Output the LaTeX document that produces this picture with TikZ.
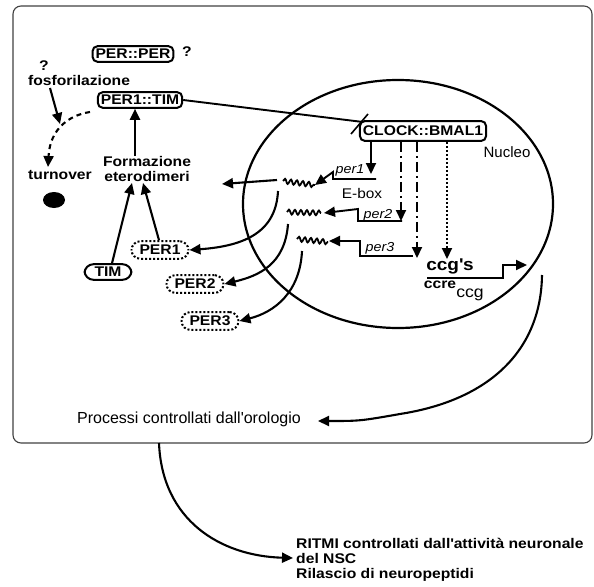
\documentclass[tikz,border=0pt]{standalone}
\usepackage{fontspec}
\setmainfont{Liberation Sans}
\newfontfamily\bfw[FakeStretch=1.12]{Liberation Sans}
\newfontfamily\rgw[FakeStretch=1.1]{Liberation Sans}
\usetikzlibrary{arrows.meta,decorations.pathmorphing,calc,shapes.geometric}
\tikzset{
 arr/.style={line width=2.1pt, -{Triangle[length=11pt,width=10pt]}},
 bx/.style={draw, line width=2pt, rounded corners=5pt, inner xsep=3pt, inner ysep=3pt, font=\bfw\bfseries\fontsize{14}{16}\selectfont},
 dbx/.style={draw, line width=2pt, dash pattern=on 2pt off 2pt, rounded corners=9pt, inner xsep=8pt, inner ysep=4pt, font=\bfw\bfseries\fontsize{14}{16}\selectfont},
 bt/.style={font=\bfw\bfseries\fontsize{14}{15}\selectfont},
 rt/.style={font=\fontsize{14}{16}\selectfont},
 it/.style={font=\rgw\itshape\fontsize{13}{15}\selectfont},
 wav/.style={line width=1.8pt, decorate, decoration={snake, amplitude=2.4pt, segment length=6pt}},
 dashdot/.style={dash pattern=on 10pt off 4pt on 2pt off 4pt},
}
\begin{document}
\begin{tikzpicture}[x=1pt,y=-1pt]
\useasboundingbox (0,0) rectangle (594,586);
\draw[line width=1.1pt, black!75, rounded corners=8pt] (13,6) rectangle (592,443);
\draw[line width=2.2pt] (398,204) ellipse [x radius=155, y radius=124];

% nodes
\node[bx] (perper) at (133,54) {PER::PER};
\node[bt] (q1) at (187,52) {?};
\node[bt] (q2) at (44,66) {?};
\node[bt] (fosfo) at (79,80) {fosforilazione};
\node[bx] (pertim) at (140,100) {PER1::TIM};
\node[bt, align=center, inner sep=0pt] (form) at (147,169) {Formazione\\eterodimeri};
\node[bt] (turn) at (60,175) {turnover};
\node[fill=black, ellipse, minimum width=22pt, minimum height=16pt, inner sep=0pt] (dot) at (54,200) {};
\node[bx, rounded corners=9pt, inner xsep=10pt] (tim) at (108,272) {TIM};
\node[dbx] (p1) at (160,250) {PER1};
\node[dbx] (p2) at (195,284) {PER2};
\node[dbx] (p3) at (210,321) {PER3};
\node[bx, inner ysep=5pt] (clock) at (423,131) {CLOCK::BMAL1};
\node[rt, font=\fontsize{15}{17}\selectfont] (nuc) at (507,152) {Nucleo};
\node[rt, font=\rgw\fontsize{14}{16}\selectfont] (ebox) at (362,193) {E-box};
\node[it] (l1) at (350,170) {per1};
\node[it] (l2) at (378,215) {per2};
\node[it] (l3) at (380,248) {per3};
\node[font=\bfw\bfseries\fontsize{17}{18}\selectfont] (ccgs) at (450,266) {ccg\textquotesingle s};
\node[bt] (ccre) at (440,285) {ccre};
\node[font=\rgw\fontsize{16}{18}\selectfont] (ccg) at (470,295) {ccg};
\node[font=\fontsize{16}{18}\selectfont] (proc) at (189,419) {Processi controllati dall\textquotesingle orologio};
\node[align=left, anchor=north west, inner sep=0pt, font=\bfw\bfseries\fontsize{14}{15}\selectfont] (ritmi) at (296,538)
 {RITMI controllati dall\textquotesingle attivit\`a neuronale\\del NSC\\Rilascio di neuropeptidi};

% coordinates
\coordinate (phos) at (60,124);
\coordinate (fs) at (50,88);
\coordinate (dsA) at (90,112);
\coordinate (dsB) at (48,167);
\coordinate (cl) at (363,122);
\coordinate (s1) at (351,134);
\coordinate (s2) at (368,114);
\coordinate (w1a) at (283,181);
\coordinate (w1b) at (315,185);
\coordinate (w2a) at (287,212);
\coordinate (w2b) at (321,213);
\coordinate (w3a) at (297,239);
\coordinate (w3b) at (328,242);
\coordinate (lft) at (222,184);
\coordinate (ccgend) at (527,265);
\coordinate (rc) at (542,275);
\coordinate (procin) at (318,421);
\coordinate (bs) at (159,443);
\coordinate (bend) at (293,558);

% left part
\draw[arr] (fs) -- (phos);
\draw[line width=2.1pt, dash pattern=on 5pt off 4pt, -{Triangle[length=11pt,width=10pt]}] (dsA) .. controls (70,115) and (50,128) .. (dsB);
\draw[arr] (form.north -| 135,0) -- (pertim.south -| 135,0);
\draw[arr] (tim.north) ++(4,0) -- (132,183);
\draw[arr] (p1.north) ++(-1,0) -- (143,183);
\draw[line width=1.9pt] (pertim.east) -- (cl);
\draw[line width=1.6pt] (s1) -- (s2);

% clock arrows
\draw[arr] (clock.south -| 371,0) -- (371,174);
\draw[arr, dashdot] (clock.south -| 401,0) -- (401,221);
\draw[arr, dashdot] (clock.south -| 417,0) -- (417,258);
\draw[arr, dash pattern=on 2pt off 2pt] (clock.south -| 447,0) -- (447,259);

% promoters
\draw[arr, line width=1.9pt] (376,179) -- (333,179) -- (333,172) -- (w1b);
\draw[arr, line width=1.9pt] (402,221) -- (358,221) -- (358,209) -- ($(w2b)+(3,0)$);
\draw[arr, line width=1.9pt] (413,256) -- (360,256) -- (360,241) -- ($(w3b)+(1,-1)$);
\draw[arr, line width=1.9pt] (427,278) -- (503,278) -- (503,265) -- (ccgend);

% mRNAs
\draw[wav] (w1a) -- (w1b);
\draw[wav] (w2a) -- (w2b);
\draw[wav] (w3a) -- (w3b);
\draw[arr] (277,180) -- (lft);
\draw[arr] (278,191) .. controls (276,232) and (245,246) .. (p1.east);
\draw[arr] (288,224) .. controls (285,265) and (258,276) .. (p2.east);
\draw[arr] (302,251) .. controls (300,292) and (275,312) .. (p3.east);

% outputs
\draw[arr] (rc) .. controls (541,350) and (490,400) .. (400,414) .. controls (360,421) .. (procin);
\draw[arr] (bs) .. controls (162,520) and (220,556) .. (bend);
\end{tikzpicture}
\end{document}
